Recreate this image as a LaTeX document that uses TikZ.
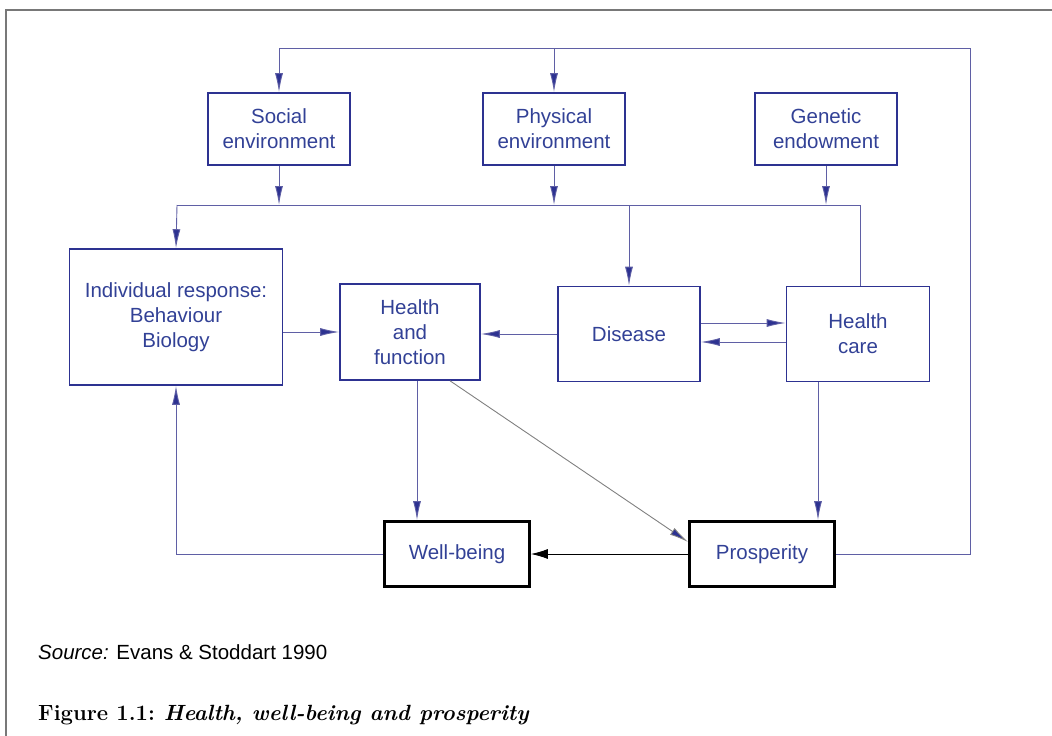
\documentclass[tikz,border=0pt]{standalone}
\usepackage{fontspec}
\setsansfont{Liberation Sans}
\usetikzlibrary{arrows.meta,calc}
\definecolor{boxblue}{RGB}{45,50,145}
\definecolor{txtblue}{RGB}{50,65,150}
\definecolor{lineblue}{RGB}{95,95,165}
\definecolor{framegray}{RGB}{120,120,120}
\begin{document}
\begin{tikzpicture}[x=1pt,y=-1pt,
  every node/.style={font=\sffamily\fontsize{20.5}{25}\selectfont,text=txtblue,align=center,inner sep=2pt},
  envbox/.style={draw=boxblue,line width=1.6pt,minimum width=142pt,minimum height=72pt},
  flowbox/.style={draw=boxblue,line width=1.6pt},
  outbox/.style={draw=black,line width=2.8pt,minimum width=145pt,minimum height=65pt},
  link/.style={draw=lineblue,line width=0.9pt},
  arrow/.style={link,-{Latex[length=19pt,width=8pt,fill=boxblue]}}]
  \useasboundingbox (0,0) rectangle (1052,736);
  % frame
  \draw[framegray,line width=1.6pt] (6,736) -- (6,10) -- (1052,10);
  % boxes
  \node[envbox] (social) at (279,129) {Social\\environment};
  \node[envbox] (phys) at (554,129) {Physical\\environment};
  \node[envbox] (gene) at (826,129) {Genetic\\endowment};
  \node[flowbox,minimum width=213pt,minimum height=136pt] (indiv) at (176,317) {Individual response:\\Behaviour\\Biology};
  \node[flowbox,minimum width=140pt,minimum height=96pt] (hf) at (410,332) {Health\\and\\function};
  \node[flowbox,minimum width=142pt,minimum height=95pt] (disease) at (629,334) {Disease};
  \node[flowbox,minimum width=143pt,minimum height=95pt] (hcare) at (858,334) {Health\\care};
  \node[outbox] (well) at (457,554) {Well-being};
  \node[outbox] (prosp) at (762,554) {Prosperity};
  % feedback loop from prosperity
  \coordinate (loopR) at (970,554);
  \coordinate (loopT) at (970,48);
  \draw[link] (prosp.east) -- (loopR) -- (loopT) -- (social.north |- loopT);
  \draw[arrow] (social.north |- loopT) -- (social.north);
  \draw[arrow] (phys.north |- loopT) -- (phys.north);
  % environment bus
  \coordinate (busL) at (177,205);
  \coordinate (busR) at (860,205);
  \draw[arrow] (social.south) -- (social.south |- busL);
  \draw[arrow] (phys.south) -- (phys.south |- busL);
  \draw[arrow] (gene.south) -- (gene.south |- busL);
  \draw[link] (busL) -- (busR) -- (busR |- hcare.north);
  \draw[arrow] (busL) -- (indiv.north);
  \draw[arrow] (disease.north |- busL) -- (disease.north);
  % middle row
  \draw[arrow] (indiv.east |- hf.west) -- (hf.west);
  \draw[arrow] (disease.west) -- (hf.east |- disease.west);
  \draw[arrow] ([yshift=11pt]disease.east) -- ([yshift=11pt]hcare.west);
  \draw[arrow] ([yshift=-8pt]hcare.west) -- ([yshift=-8pt]disease.east);
  % to outcomes
  \draw[arrow] ([xshift=7pt]hf.south) -- ([xshift=7pt]hf.south |- well.north);
  \draw[arrow,draw=gray] ([xshift=40pt]hf.south) -- ([yshift=12pt]prosp.west);
  \draw[arrow] ([xshift=-40pt]hcare.south) -- ([xshift=-40pt]hcare.south |- prosp.north);
  \draw[arrow,draw=black,-{Latex[length=17pt,width=10pt]}] (prosp.west) -- (well.east);
  \draw[arrow] (well.west) -| (indiv.south);
  % source and caption
  \node[anchor=west,text=black] (src) at (36,652) {\textit{Source:} Evans \& Stoddart 1990};
  \node[anchor=west,text=black,font=\rmfamily\fontsize{22}{26}\selectfont] (cap) at (36,715) {\textbf{Figure 1.1:} \textbf{\textit{Health, well-being and prosperity}}};
\end{tikzpicture}
\end{document}
